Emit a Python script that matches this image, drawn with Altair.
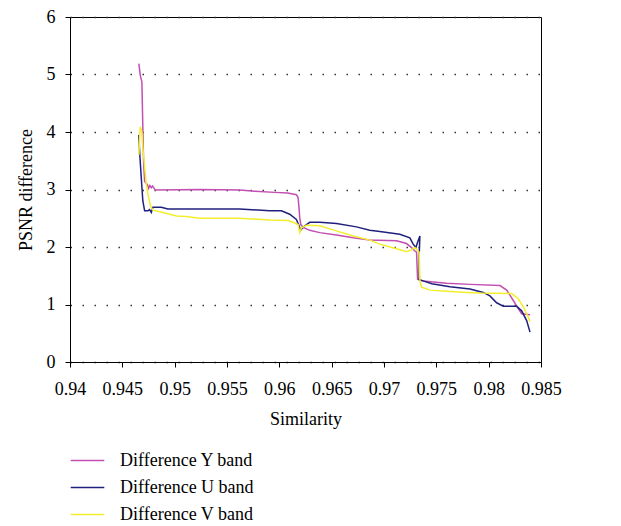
import altair as alt
import pandas as pd

# Difference Y band
y_sim = [0.94658, 0.94671, 0.94687, 0.94696, 0.94703, 0.94713, 0.94738, 0.94751, 0.94763, 0.94777,
         0.94789, 0.94815, 0.95239, 0.95621, 0.95765, 0.95956, 0.96080, 0.96163, 0.96179, 0.96188,
         0.96195, 0.96205, 0.96227, 0.96291, 0.96386, 0.96546, 0.96705, 0.96864, 0.97120, 0.97215,
         0.97263, 0.97295, 0.97311, 0.97321, 0.97374, 0.97598, 0.97821, 0.98108, 0.98172, 0.98235,
         0.98283, 0.98315, 0.98395]
y_val = [5.19, 4.99, 4.87, 4.06, 3.49, 3.14, 3.09, 3.02, 3.07, 3.03,
         3.06, 2.99, 3.00, 2.99, 2.97, 2.95, 2.94, 2.91, 2.86, 2.68,
         2.51, 2.39, 2.34, 2.29, 2.25, 2.21, 2.16, 2.12, 2.11, 2.06,
         1.99, 1.93, 1.91, 1.44, 1.41, 1.37, 1.35, 1.33, 1.25, 1.07,
         0.93, 0.84, 0.82]

# Difference U band
u_sim = [0.94658, 0.94665, 0.94681, 0.94696, 0.94713, 0.94744, 0.94760, 0.94777, 0.94792, 0.94872,
         0.94935, 0.95621, 0.95908, 0.96020, 0.96099, 0.96163, 0.96188, 0.96202, 0.96243, 0.96291,
         0.96386, 0.96546, 0.96737, 0.96864, 0.96960, 0.97151, 0.97247, 0.97279, 0.97304, 0.97326,
         0.97343, 0.97336, 0.97336, 0.97359, 0.97457, 0.97630, 0.97821, 0.97948, 0.98012, 0.98076,
         0.98140, 0.98267, 0.98315, 0.98363, 0.98395]
u_val = [3.95, 3.66, 3.20, 2.80, 2.63, 2.63, 2.65, 2.60, 2.69, 2.69,
         2.66, 2.66, 2.63, 2.63, 2.57, 2.48, 2.37, 2.29, 2.37, 2.43,
         2.43, 2.41, 2.35, 2.29, 2.27, 2.22, 2.16, 2.05, 1.99, 2.11,
         2.19, 1.85, 1.43, 1.42, 1.36, 1.31, 1.27, 1.21, 1.15, 1.03,
         0.97, 0.97, 0.89, 0.72, 0.52]

# Difference V band
v_sim = [0.94658, 0.94671, 0.94687, 0.94696, 0.94713, 0.94729, 0.94751, 0.94770, 0.94792, 0.94888,
         0.95016, 0.95111, 0.95239, 0.95621, 0.95908, 0.96080, 0.96131, 0.96179, 0.96195, 0.96211,
         0.96259, 0.96386, 0.96546, 0.96705, 0.96864, 0.96960, 0.97120, 0.97215, 0.97263, 0.97295,
         0.97326, 0.97336, 0.97343, 0.97359, 0.97438, 0.97598, 0.97789, 0.97916, 0.98220, 0.98283,
         0.98331, 0.98378, 0.98395]
v_val = [3.60, 4.09, 4.00, 3.72, 3.40, 3.09, 2.86, 2.71, 2.64, 2.60,
         2.54, 2.53, 2.50, 2.50, 2.47, 2.46, 2.43, 2.39, 2.25, 2.33,
         2.38, 2.37, 2.28, 2.19, 2.12, 2.05, 1.97, 1.92, 1.95, 1.99,
         1.93, 1.91, 1.42, 1.30, 1.25, 1.23, 1.21, 1.20, 1.19, 1.10,
         0.96, 0.78, 0.70]

series_names = ["Difference Y band", "Difference U band", "Difference V band"]
series_colors = ["#c24fb2", "#20207e", "#f2ee2c"]
x_ticks = [0.94, 0.945, 0.95, 0.955, 0.96, 0.965, 0.97, 0.975, 0.98, 0.985]
y_ticks = [0, 1, 2, 3, 4, 5, 6]

rows = []
for name, xs, ys in zip(series_names, [y_sim, u_sim, v_sim], [y_val, u_val, v_val]):
    for i, (a, b) in enumerate(zip(xs, ys)):
        rows.append({"series": name, "sim": a, "psnr": b, "idx": i})
df = pd.DataFrame(rows)

FONT = "Liberation Serif"

axis_style = dict(labelFont=FONT, titleFont=FONT, labelFontSize=18, titleFontSize=18,
                  titleFontWeight="normal", labelColor="black", titleColor="black",
                  domainColor="black", tickColor="black", domainWidth=1, tickSize=5)

chart = alt.Chart(df).mark_line(strokeWidth=1.5).encode(
    x=alt.X("sim:Q",
            scale=alt.Scale(domain=[0.94, 0.985], nice=False, zero=False),
            axis=alt.Axis(values=x_ticks, format=".3~f", title="Similarity",
                          grid=False, labelPadding=13, titlePadding=12,
                          labelFlush=False, **axis_style)),
    y=alt.Y("psnr:Q",
            scale=alt.Scale(domain=[0, 6], nice=False),
            axis=alt.Axis(values=y_ticks, title="PSNR difference", grid=True,
                          gridDash=[1.5, 10.5], gridColor="#333333", gridWidth=1.5,
                          labelPadding=10, titlePadding=11, **axis_style)),
    color=alt.Color("series:N",
                    scale=alt.Scale(domain=series_names, range=series_colors),
                    title=None,
                    legend=alt.Legend(orient="none", legendX=6, legendY=432,
                                      direction="vertical", symbolType="M-1.6,0L1.6,0",
                                      symbolSize=441, symbolStrokeWidth=1.5,
                                      symbolFillColor="transparent",
                                      labelFont=FONT, labelFontSize=18, labelColor="black",
                                      labelOffset=21, rowPadding=6)),
    order="idx:Q",
    detail="series:N",
).properties(
    width=471,
    height=345,
    autosize=alt.AutoSizeParams(type="none"),
    padding={"left": 62, "top": 9, "right": 72, "bottom": 172},
).configure(
    font=FONT
).configure_view(
    stroke="black", strokeWidth=1
)

chart.save("out.html", embed_options={"renderer": "svg", "actions": False})
